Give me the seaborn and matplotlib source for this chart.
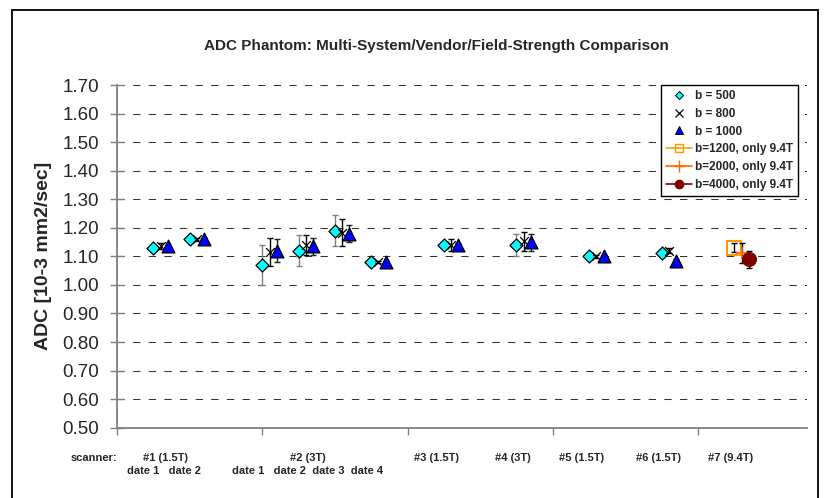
import numpy as np
import matplotlib.pyplot as plt
import matplotlib.transforms as mtransforms
from matplotlib.lines import Line2D
from matplotlib.patches import Rectangle
import seaborn as sns

# x position of each scanner/date measurement (scatter axis 0..19)
x_pos = [1, 2, 4, 5, 6, 7, 9, 11, 13, 15]

b500 = [1.13, 1.16, 1.07, 1.12, 1.19, 1.08, 1.14, 1.14, 1.10, 1.11]
b500_err = [0.005, 0.005, 0.07, 0.055, 0.055, 0.005, 0.005, 0.038, 0.005, 0.005]
b800 = [1.135, 1.16, 1.115, 1.14, 1.183, 1.08, 1.14, 1.152, 1.10, 1.12]
b800_err = [0.01, 0.005, 0.05, 0.035, 0.047, 0.005, 0.02, 0.035, 0.005, 0.01]
b1000 = [1.135, 1.16, 1.12, 1.135, 1.18, 1.08, 1.14, 1.15, 1.10, 1.085]
b1000_err = [0.005, 0.005, 0.04, 0.03, 0.03, 0.005, 0.005, 0.03, 0.005, 0.005]

x_94 = [17]
b1200 = [1.13]
b1200_err = [0.015]
b2000 = [1.11]
b2000_err = [0.035]
b4000 = [1.09]
b4000_err = [0.03]

scanner_labels = ["scanner:", "#1 (1.5T)", "#2 (3T)", "#3 (1.5T)", "#4 (3T)",
                  "#5 (1.5T)", "#6 (1.5T)", "#7 (9.4T)"]
scanner_label_x = [-0.63, 1.34, 5.26, 8.8, 10.9, 12.8, 14.9, 16.9]
date_labels = ["date 1   date 2", "date 1   date 2  date 3  date 4"]
date_label_x = [1.3, 5.26]

sns.set_theme(style="white")
plt.rcParams["font.family"] = ["Liberation Sans", "DejaVu Sans"]

fig = plt.figure(figsize=(8.27, 4.98), dpi=100)
ax = fig.add_axes([0.1415, 0.1412, 0.8343, 0.6881])

GRAY = "#808080"


def draw_series(xs, ys, errs, offset, marker, size, face, edge, lw, ecolor, z):
    xs = np.asarray(xs) + offset
    ax.errorbar(xs, ys, yerr=errs, fmt="none", ecolor=ecolor, elinewidth=1.0,
                capsize=2.5, capthick=1.0, zorder=z)
    sns.scatterplot(x=xs, y=ys, marker=marker, s=size, color=face,
                    edgecolor=edge, linewidth=lw, ax=ax, legend=False, zorder=z + 0.5)


draw_series(x_pos, b500, b500_err, 0.0, "D", 44, "#00FFFF", "black", 0.9, GRAY, 3)
ax.errorbar(np.asarray(x_pos) + 0.2, b800, yerr=b800_err, fmt="none", ecolor="black",
            elinewidth=1.0, capsize=2.5, capthick=1.0, zorder=4)
sns.scatterplot(x=np.asarray(x_pos) + 0.2, y=b800, marker="x", s=40, color="black",
                linewidth=0.9, ax=ax, legend=False, zorder=4.5)
draw_series(x_pos, b1000, b1000_err, 0.4, "^", 85, "#0000FF", "black", 0.9, "#202020", 5)

ax.errorbar(x_94, b1200, yerr=b1200_err, fmt="none", ecolor="black",
            elinewidth=1.0, capsize=2.5, zorder=6)
sns.scatterplot(x=x_94, y=b1200, marker="s", s=100, color="none",
                edgecolor="#FF9900", linewidth=1.5, ax=ax, legend=False, zorder=6.5)
ax.errorbar(np.asarray(x_94) + 0.2, b2000, yerr=b2000_err, fmt="none", ecolor="black",
            elinewidth=1.0, capsize=2.5, zorder=7)
sns.scatterplot(x=np.asarray(x_94) + 0.2, y=b2000, marker="+", s=80, color="#FF6600",
                linewidth=1.2, ax=ax, legend=False, zorder=7.5)
draw_series(x_94, b4000, b4000_err, 0.4, "o", 100, "#800000", "#800000", 0.8, "black", 8)

ax.set_xlim(0, 19)
ax.set_ylim(0.5, 1.7)
ax.set_yticks(np.arange(0.5, 1.71, 0.1))
ax.set_yticklabels([f"{v:.2f}" for v in np.arange(0.5, 1.71, 0.1)], fontsize=13.5)
ax.set_xticks([0, 4, 8, 12, 16])
ax.set_xticklabels([])
ax.tick_params(axis="y", direction="inout", length=10, width=1.0, color=GRAY, pad=8,
               left=True)
ax.tick_params(axis="x", direction="out", length=5, width=1.0, color=GRAY, bottom=True)
ax.yaxis.grid(True, color="#333333", linestyle=(0, (7, 8)), linewidth=0.75)
ax.xaxis.grid(False)
for side in ["top", "right"]:
    ax.spines[side].set_visible(False)
for side in ["left", "bottom"]:
    ax.spines[side].set_color(GRAY)
    ax.spines[side].set_linewidth(1.3)
ax.set_axisbelow(True)

fig.text(0.528, 0.908, "ADC Phantom: Multi-System/Vendor/Field-Strength Comparison",
         ha="center", va="center", fontsize=11, fontweight="bold")
fig.text(0.053, 0.487, "ADC [10-3 mm2/sec]", rotation=90, ha="center", va="center",
         fontsize=14, fontweight="bold")

trans = mtransforms.blended_transform_factory(ax.transData, ax.transAxes)
small = dict(family=["Liberation Sans Narrow", "Liberation Sans", "DejaVu Sans"],
             fontsize=8, fontweight="bold", ha="center", va="center")
for lab, xv in zip(scanner_labels, scanner_label_x):
    ax.text(xv, -0.088, lab, transform=trans, **small)
for lab, xv in zip(date_labels, date_label_x):
    ax.text(xv, -0.126, lab, transform=trans, **small)

handles = [
    Line2D([], [], linestyle="none", marker="D", markersize=4.2, markerfacecolor="#00FFFF",
           markeredgecolor="black", markeredgewidth=0.7),
    Line2D([], [], linestyle="none", marker="x", markersize=6, color="black",
           markeredgewidth=0.9),
    Line2D([], [], linestyle="none", marker="^", markersize=6, markerfacecolor="#0000FF",
           markeredgecolor="black", markeredgewidth=0.7),
    Line2D([], [], color="#FF9900", linewidth=1.2, marker="s", markersize=6,
           markerfacecolor="none", markeredgecolor="#FF9900"),
    Line2D([], [], color="#FF6600", linewidth=1.2, marker="+", markersize=8,
           markeredgecolor="#FF6600"),
    Line2D([], [], color="#800000", linewidth=1.2, marker="o", markersize=6,
           markerfacecolor="#800000", markeredgecolor="#800000"),
]
labels = ["b = 500", "b = 800", "b = 1000", "b=1200, only 9.4T",
          "b=2000, only 9.4T", "b=4000, only 9.4T"]
leg = ax.legend(handles, labels, loc="upper right", bbox_to_anchor=(0.987, 1.0),
                borderaxespad=0, frameon=True, fancybox=False, framealpha=1,
                edgecolor="black", prop={"weight": "bold", "size": 8.5},
                handlelength=2.2, handletextpad=0.3, borderpad=0.4, labelspacing=0.5)
leg.get_frame().set_linewidth(1.0)
leg.set_zorder(20)

fig.patches.append(Rectangle((12 / 827, -0.01), (818 - 12) / 827, 1.0 - 10 / 498 + 0.01,
                             transform=fig.transFigure, fill=False, edgecolor="black",
                             linewidth=1.3))

fig.savefig("out.png", dpi=100)
